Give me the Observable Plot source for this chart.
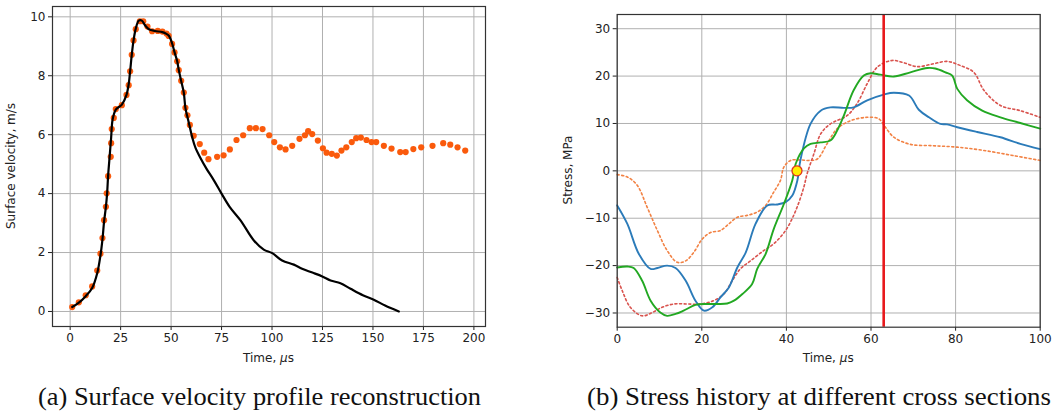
<!DOCTYPE html>
<html><head><meta charset="utf-8">
<script src="https://cdn.jsdelivr.net/npm/d3@7"></script>
<script src="https://cdn.jsdelivr.net/npm/@observablehq/plot@0.6"></script>
<style>
body{margin:0;background:#fff;}
#wrap{position:relative;width:1054px;height:416px;overflow:hidden;background:#fff}
#a{position:absolute;left:0;top:0}
#b{position:absolute;left:560px;top:0}
#cap{position:absolute;left:0;top:370px}
</style></head><body>
<div id="wrap"><div id="a"></div><div id="b"></div><svg id="cap" width="1054" height="46"></svg></div>
<script>
// ---- (a) Surface velocity: [time µs, velocity m/s]
const measured = [[1.0,0.15],[4.3,0.31],[7.7,0.55],[10.9,0.85],[13.4,1.39],[15.0,1.96],[16.0,2.49],[16.8,3.10],[17.7,3.55],[18.1,4.01],[18.8,4.59],[20.1,5.25],[20.3,5.71],[20.6,6.19],[21.6,6.57],[22.6,6.87],[25.6,7.0],[27.9,7.35],[29.0,7.68],[29.7,8.15],[30.5,8.71],[31.4,9.2],[32.5,9.58],[34.5,9.85],[36.2,9.85],[38.3,9.67],[40.6,9.51],[43.4,9.52],[45.7,9.50],[47.7,9.43],[48.8,9.35],[50.5,9.08],[51.7,8.79],[53.0,8.49],[53.8,8.19],[55.0,7.83],[56.3,7.43],[57.1,6.91],[58.1,6.66],[59.3,6.33],[61.2,5.96],[64.2,5.68],[66.4,5.39],[68.5,5.17],[72.8,5.25],[76.0,5.30],[79.1,5.50],[82.4,5.82],[85.7,5.98],[89.0,6.22],[92.0,6.22],[95.3,6.19],[98.6,5.98],[101.1,5.75],[103.9,5.57],[106.7,5.50],[110.0,5.62],[113.6,5.86],[116.3,5.98],[117.9,6.12],[119.9,6.02],[122.7,5.80],[125.2,5.54],[127.0,5.39],[129.6,5.35],[132.1,5.29],[134.4,5.46],[136.8,5.57],[139.5,5.75],[141.7,5.88],[144.0,5.90],[146.8,5.82],[149.3,5.75],[151.6,5.75],[155.4,5.62],[159.2,5.53],[163.5,5.41],[166.2,5.41],[170.0,5.51],[173.9,5.57],[179.5,5.62],[184.8,5.71],[188.3,5.66],[191.9,5.57],[195.7,5.46]];
const reconstructed = [[1,0.15],[4.3,0.3],[7.7,0.52],[10.9,0.8],[13.4,1.3],[15,1.9],[16,2.45],[16.8,3.05],[17.7,3.55],[18.3,4.0],[18.8,4.6],[19.6,5.3],[20.3,5.9],[21,6.5],[22.6,6.85],[25.6,7.02],[27.9,7.35],[29,7.72],[29.7,8.15],[30.5,8.7],[31.4,9.2],[32.5,9.6],[34,9.87],[35.5,9.87],[37,9.72],[39,9.58],[42,9.52],[45.7,9.48],[47.7,9.42],[49,9.35],[50.5,9.1],[51.7,8.8],[53,8.5],[53.8,8.2],[55,7.82],[56.3,7.42],[57.1,6.9],[58.1,6.6],[59.3,6.25],[60.5,5.9],[62.1,5.55],[64.6,5.2],[67.5,4.85],[71.2,4.45],[75,4.0],[79,3.55],[84.4,3.09],[91,2.41],[95.9,2.1],[100.1,1.98],[105,1.73],[110.8,1.59],[114.9,1.45],[120,1.32],[124.9,1.19],[129,1.05],[133.9,0.96],[138.9,0.77],[145,0.55],[150.4,0.40],[156,0.2],[162.8,0]];
const ticksXa = [0,25,50,75,100,125,150,175,200];
const ticksYa = [0,2,4,6,8,10];

// ---- (b) Stress history: [time µs, stress MPa]
const sectionBlue = [[0,-7.3],[2.4,-11.2],[5.1,-17.5],[7.9,-20.7],[9.5,-20.5],[11.8,-20.0],[13.8,-20.5],[16.2,-23.2],[18.5,-27.4],[20.5,-29.5],[22.5,-28.8],[24.4,-26.7],[26.4,-24.6],[28.4,-20.4],[30.4,-17.2],[32.7,-11.2],[35.5,-7.3],[37.8,-7.1],[39.8,-6.6],[41.4,-5.2],[42.6,-2.0],[43.3,2.2],[45.7,9.9],[48.1,12.7],[50.4,13.4],[53.6,13.3],[55.9,13.4],[59.1,14.9],[63.0,16.1],[65.4,16.5],[69.0,15.9],[71.3,12.9],[73.7,11.3],[76.4,9.9],[78.0,9.8],[80.4,9.2],[85.1,8.2],[90.6,7.1],[95.3,5.7],[100,4.6]];
const sectionGreen = [[0,-20.4],[2.4,-20.2],[3.9,-20.5],[5.9,-23.2],[7.9,-27.4],[10.2,-29.9],[11.8,-30.6],[13.8,-30.2],[15.7,-29.5],[18.5,-28.3],[21.3,-28.1],[23.6,-28.1],[26.0,-28.0],[27.6,-27.4],[29.6,-26.0],[31.9,-23.9],[33.1,-20.7],[35.1,-17.5],[37.0,-12.3],[39.4,-7.0],[41.4,-2.0],[42.2,1.5],[44.2,4.8],[45.7,5.7],[48.1,6.0],[50.4,6.4],[52.0,8.5],[53.6,11.7],[55.9,17.0],[58.3,20.1],[59.9,20.6],[62.2,20.3],[65.4,19.9],[69.3,20.8],[73.3,21.7],[75.2,21.6],[77.6,20.8],[79.2,20.1],[80.4,17.3],[82.7,14.9],[86.3,12.7],[90.6,11.3],[95.3,10.1],[100,8.9]];
const sectionOrange = [[0,-0.8],[2.4,-1.3],[4.7,-3.0],[7.1,-7.7],[9.5,-12.6],[11.8,-16.8],[14.2,-19.3],[16.2,-19.0],[18.1,-17.2],[20.1,-14.4],[22.1,-13.0],[24.4,-12.6],[26.4,-11.2],[28.4,-9.8],[30.7,-9.4],[33.1,-8.7],[35.1,-7.3],[37.0,-4.5],[38.6,-2.0],[39.4,0.8],[41.0,2.2],[43.3,2.3],[45.3,2.2],[47.3,2.5],[49.6,5.7],[52.0,8.9],[55.2,10.6],[59.1,11.3],[61.8,11.0],[63.4,9.2],[65.4,7.1],[69.3,5.6],[74.8,5.3],[80.4,5.0],[86.7,4.3],[93.8,3.2],[100,2.2]];
const sectionRed = [[0,-22.5],[1.2,-25.3],[3.1,-28.8],[5.9,-30.6],[8.3,-29.9],[10.6,-28.8],[13.4,-28.1],[16.5,-28.1],[19.7,-28.1],[22.8,-27.4],[25.2,-26.0],[27.2,-23.2],[29.1,-20.7],[31.5,-19.0],[34.7,-16.8],[37.0,-15.4],[39.8,-12.6],[42.2,-8.4],[44.1,-3.5],[44.9,-0.6],[46.5,3.6],[48.1,7.8],[50.4,9.9],[54.4,11.7],[56.7,14.2],[59.1,18.4],[61.5,21.9],[65.0,23.3],[67.8,22.8],[70.9,22.0],[74.8,22.6],[78.0,23.1],[81.2,22.2],[84.3,20.8],[86.7,17.0],[90.6,13.8],[95.3,12.7],[100,11.3]];
const markerTime = [63];
const markerPoint = [[42.5,0]];
const ticksXb = [0,20,40,60,80,100];
const ticksYb = [-30,-20,-10,0,10,20,30];

const captions = ["(a) Surface velocity profile reconstruction", "(b) Stress history at different cross sections"];

const style = {fontFamily: "DejaVu Sans", fontSize: "12px", color: "#222", background: "white"};
const gridColor = "#b0b0b0";

function addLabels(svg, xl, yl, xCenter, xY, yX, yCenter) {
  const s = d3.select(svg);
  const t = s.append("text").attr("x", xCenter).attr("y", xY).attr("text-anchor", "middle")
    .attr("font-family", "DejaVu Sans").attr("font-size", 12).attr("fill", "#222");
  t.append("tspan").text("Time, ");
  t.append("tspan").attr("font-style", "italic").text("μ");
  t.append("tspan").text("s");
  s.append("text").attr("transform", `translate(${yX},${yCenter}) rotate(-90)`)
    .attr("text-anchor", "middle").attr("font-family", "DejaVu Sans").attr("font-size", 12).attr("fill", "#222")
    .text(yl);
}

const plotA = Plot.plot({
  width: 500, height: 370,
  marginLeft: 52, marginRight: 15, marginTop: 6, marginBottom: 44,
  style,
  x: {domain: [-8.75, 205.75], ticks: ticksXa, label: null},
  y: {domain: [-0.51, 10.35], ticks: ticksYa, label: null},
  marks: [
    Plot.gridX(ticksXa, {stroke: gridColor, strokeOpacity: 1, strokeWidth: 1}),
    Plot.gridY(ticksYa, {stroke: gridColor, strokeOpacity: 1, strokeWidth: 1}),
    Plot.axisX(ticksXa, {tickSize: 4, tickPadding: 3, label: null, stroke: "#222"}),
    Plot.axisY(ticksYa, {tickSize: 4, tickPadding: 3, label: null, stroke: "#222"}),
    Plot.dot(measured, {x: d => d[0], y: d => d[1], r: 3.1, fill: "#fa5a0c", stroke: "none"}),
    Plot.line(reconstructed, {x: d => d[0], y: d => d[1], stroke: "#000", strokeWidth: 2.2, curve: "catmull-rom"}),
    Plot.frame({stroke: "#333", strokeWidth: 1.2})
  ]
});
document.getElementById("a").appendChild(plotA);
addLabels(plotA, "Time", "Surface velocity, m/s", 268.5, 362, 15, 166);

const plotB = Plot.plot({
  width: 494, height: 370,
  marginLeft: 56.7, marginRight: 14.3, marginTop: 14, marginBottom: 43.3,
  style,
  x: {domain: [0, 100], ticks: ticksXb, label: null},
  y: {domain: [-33, 33], ticks: ticksYb, label: null},
  marks: [
    Plot.gridX(ticksXb, {stroke: gridColor, strokeOpacity: 1, strokeWidth: 1}),
    Plot.gridY(ticksYb, {stroke: gridColor, strokeOpacity: 1, strokeWidth: 1}),
    Plot.axisX(ticksXb, {tickSize: 4, tickPadding: 3, label: null, stroke: "#222"}),
    Plot.axisY(ticksYb, {tickSize: 4, tickPadding: 3, label: null, stroke: "#222"}),
    Plot.line(sectionOrange, {x: d => d[0], y: d => d[1], stroke: "#f28244", strokeWidth: 1.6, strokeDasharray: "2,2.6", curve: "catmull-rom"}),
    Plot.line(sectionRed, {x: d => d[0], y: d => d[1], stroke: "#d9534e", strokeWidth: 1.6, strokeDasharray: "2,2.6", curve: "catmull-rom"}),
    Plot.line(sectionBlue, {x: d => d[0], y: d => d[1], stroke: "#2b7bb9", strokeWidth: 1.9, curve: "catmull-rom"}),
    Plot.line(sectionGreen, {x: d => d[0], y: d => d[1], stroke: "#22a822", strokeWidth: 1.9, curve: "catmull-rom"}),
    Plot.ruleX(markerTime, {stroke: "#e8191c", strokeWidth: 2.6}),
    Plot.dot(markerPoint, {x: d => d[0], y: d => d[1], r: 5, fill: "#ffee00", stroke: "#e0321e", strokeWidth: 1.3}),
    Plot.frame({stroke: "#333", strokeWidth: 1.2})
  ]
});
document.getElementById("b").appendChild(plotB);
addLabels(plotB, "Time", "Stress, MPa", 268.2, 362, 12, 170);

const cap = d3.select("#cap");
[[38, 443, captions[0]], [587, 464, captions[1]]].forEach(([x, w, txt]) => {
  cap.append("text").attr("x", x).attr("y", 35)
    .attr("font-family", "'Liberation Serif', serif").attr("font-size", 25).attr("fill", "#111")
    .attr("textLength", w).attr("lengthAdjust", "spacingAndGlyphs").text(txt);
});
</script></body></html>
